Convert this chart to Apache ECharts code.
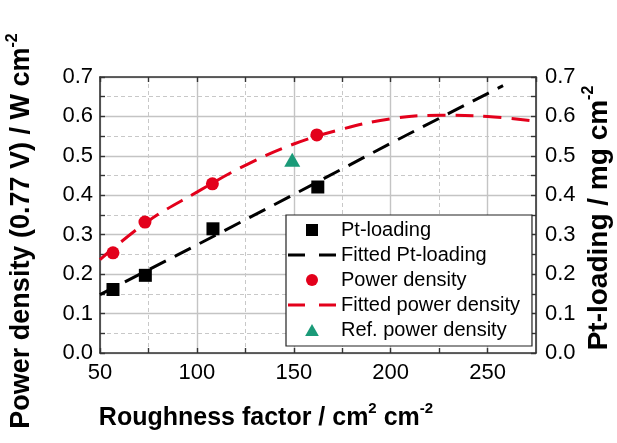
<!DOCTYPE html>
<html>
<head>
<meta charset="utf-8">
<script src="https://cdn.jsdelivr.net/npm/echarts@6/dist/echarts.min.js"></script>
<style>
html,body{margin:0;padding:0;background:#fff;}
#chart{width:617px;height:443px;}
</style>
</head>
<body>
<div id="chart"></div>
<script>
// ---- data ----
const ptLoadingX = [56.7, 73.4, 108.3, 162.4];
const ptLoadingY = [0.161, 0.197, 0.315, 0.421];

const powerX = [56.7, 73.2, 108.0, 161.9];
const powerY = [0.254, 0.332, 0.429, 0.553];

const refPowerX = [149.2];
const refPowerY = [0.490];

const fitPtX = [50, 100, 150, 200, 250, 258];
const fitPtY = [0.148, 0.274, 0.402, 0.532, 0.658, 0.678];

const fitPowerX = [50, 75, 100, 125, 150, 175, 200, 225, 250, 275];
const fitPowerY = [0.237, 0.335, 0.408, 0.476, 0.530, 0.568, 0.594, 0.603, 0.600, 0.588];

const xTicks = [50, 100, 150, 200, 250];
const yTicks = [0.0, 0.1, 0.2, 0.3, 0.4, 0.5, 0.6, 0.7];

const legendNames = ['Pt-loading', 'Fitted Pt-loading', 'Power density', 'Fitted power density', 'Ref. power density'];

const xTitle = 'Roughness factor / cm';
const yLeftTitle = 'Power density (0.77 V) / W cm';
const yRightTitle = 'Pt-loading / mg cm';

// ---- build ----
const zip = (xs, ys) => xs.map((x, i) => [x, ys[i]]);
const FONT = 'Liberation Sans, Arial, sans-serif';
const RED = '#e3001b';
const GREEN = '#1a9a78';
const FRAME = '#333333';

const isXTick = v => xTicks.some(t => Math.abs(t - v) < 1e-6);
const isYTick = v => yTicks.some(t => Math.abs(t - v) < 1e-6);

const labelStyle = {fontSize: 22, color: '#000', fontFamily: FONT};

// legend icons (shapes only; sizes fit into the legend item box)
const ICON_SQUARE = 'path://M0,0h10v10h-10z';
const ICON_TRIANGLE = 'path://M6,0L12,10.5L0,10.5Z';
const ICON_DASH = 'path://M0,0h17v3h-17zM31,0h17v3h-17z';

const titleRich = (big, small) => ({
  a: {fontSize: big, lineHeight: big + 8, fontWeight: 'bold', fontFamily: FONT, fill: '#000'},
  s: {fontSize: small, lineHeight: small, fontWeight: 'bold', fontFamily: FONT, fill: '#000', verticalAlign: 'top'}
});

const chart = echarts.init(document.getElementById('chart'), null, {renderer: 'canvas'});

const option = {
  animation: false,
  backgroundColor: '#ffffff',
  grid: {left: 100, right: 81, top: 77, bottom: 90},
  xAxis: [
    { // bottom axis: ticks every 25, labels every 50, dashed minor grid
      type: 'value', position: 'bottom', min: 50, max: 275, interval: 25,
      axisLine: {show: true, onZero: false, lineStyle: {color: FRAME, width: 1.6}},
      axisTick: {show: true, inside: true, length: 5, lineStyle: {color: FRAME, width: 1.4}},
      axisLabel: Object.assign({margin: 9, showMaxLabel: false,
        formatter: v => isXTick(v) ? String(v) : ''}, labelStyle),
      splitLine: {show: true, lineStyle: {color: ['rgba(0,0,0,0)', '#c8c8c8'], width: 1, type: [4, 3]}}
    },
    { // top frame
      type: 'value', position: 'top', min: 50, max: 275, interval: 25,
      axisLine: {show: true, onZero: false, lineStyle: {color: FRAME, width: 1.6}},
      axisTick: {show: true, inside: true, length: 5, lineStyle: {color: FRAME, width: 1.4}},
      axisLabel: {show: false},
      splitLine: {show: false}
    },
    { // major solid grid
      type: 'value', position: 'bottom', min: 50, max: 275, interval: 50,
      axisLine: {show: false}, axisTick: {show: false}, axisLabel: {show: false},
      splitLine: {show: true, lineStyle: {color: '#c4c4c4', width: 1.4}}
    }
  ],
  yAxis: [
    { // left axis
      type: 'value', position: 'left', min: 0, max: 0.7, interval: 0.05,
      axisLine: {show: true, onZero: false, lineStyle: {color: FRAME, width: 1.6}},
      axisTick: {show: true, inside: true, length: 5, lineStyle: {color: FRAME, width: 1.4}},
      axisLabel: Object.assign({margin: 7,
        formatter: v => isYTick(v) ? v.toFixed(1) : ''}, labelStyle),
      splitLine: {show: true, lineStyle: {color: ['rgba(0,0,0,0)', '#c8c8c8'], width: 1, type: [4, 3]}}
    },
    { // right axis
      type: 'value', position: 'right', min: 0, max: 0.7, interval: 0.05,
      axisLine: {show: true, onZero: false, lineStyle: {color: FRAME, width: 1.6}},
      axisTick: {show: true, inside: true, length: 5, lineStyle: {color: FRAME, width: 1.4}},
      axisLabel: Object.assign({margin: 9,
        formatter: v => isYTick(v) ? v.toFixed(1) : ''}, labelStyle),
      splitLine: {show: false}
    },
    { // major solid grid
      type: 'value', position: 'left', min: 0, max: 0.7, interval: 0.1,
      axisLine: {show: false}, axisTick: {show: false}, axisLabel: {show: false},
      splitLine: {show: true, lineStyle: {color: '#c4c4c4', width: 1.4}}
    }
  ],
  legend: {
    data: [
      {name: legendNames[0], icon: ICON_SQUARE},
      {name: legendNames[1], icon: ICON_DASH},
      {name: legendNames[2], icon: 'circle'},
      {name: legendNames[3], icon: ICON_DASH},
      {name: legendNames[4], icon: ICON_TRIANGLE}
    ],
    orient: 'vertical',
    left: 286, top: 215,
    padding: [5, 12, 6, 2],
    itemGap: 5,
    itemWidth: 48,
    itemHeight: 12,
    symbolKeepAspect: true,
    backgroundColor: '#ffffff',
    borderColor: '#222',
    borderWidth: 1.2,
    borderRadius: 0,
    textStyle: {fontSize: 20, color: '#000', fontFamily: FONT}
  },
  series: [
    {
      name: legendNames[1], type: 'line', xAxisIndex: 0, yAxisIndex: 1,
      data: zip(fitPtX, fitPtY), symbol: 'none', smooth: false, z: 2,
      lineStyle: {color: '#000', width: 3, type: [18, 10]}, itemStyle: {color: '#000'}
    },
    {
      name: legendNames[3], type: 'line', xAxisIndex: 0, yAxisIndex: 0,
      data: zip(fitPowerX, fitPowerY), symbol: 'none', smooth: 0.4, z: 2,
      lineStyle: {color: RED, width: 3, type: [18, 10]}, itemStyle: {color: RED}
    },
    {
      name: legendNames[0], type: 'scatter', xAxisIndex: 0, yAxisIndex: 1,
      data: zip(ptLoadingX, ptLoadingY), symbol: 'rect', symbolSize: 13, z: 3,
      itemStyle: {color: '#000', opacity: 1}
    },
    {
      name: legendNames[2], type: 'scatter', xAxisIndex: 0, yAxisIndex: 0,
      data: zip(powerX, powerY), symbol: 'circle', symbolSize: 13, z: 3,
      itemStyle: {color: RED, opacity: 1}
    },
    {
      name: legendNames[4], type: 'scatter', xAxisIndex: 0, yAxisIndex: 0,
      data: zip(refPowerX, refPowerY), symbol: 'triangle', symbolSize: [16, 14], z: 3,
      itemStyle: {color: GREEN, opacity: 1}
    }
  ],
  graphic: [
    {
      type: 'text', x: 266, y: 418,
      style: {
        text: '{a|' + xTitle + '}{s|2}{a| cm}{s|-2}',
        align: 'center', verticalAlign: 'middle', fill: '#000',
        rich: titleRich(25, 15)
      }
    },
    {
      type: 'text', x: 22, y: 231, rotation: Math.PI / 2,
      style: {
        text: '{a|' + yLeftTitle + '}{s|-2}',
        align: 'center', verticalAlign: 'middle', fill: '#000',
        rich: titleRich(27, 16)
      }
    },
    {
      type: 'text', x: 599, y: 218, rotation: Math.PI / 2,
      style: {
        text: '{a|' + yRightTitle + '}{s|-2}',
        align: 'center', verticalAlign: 'middle', fill: '#000',
        rich: titleRich(28, 16)
      }
    }
  ]
};

chart.setOption(option);
</script>
</body>
</html>
